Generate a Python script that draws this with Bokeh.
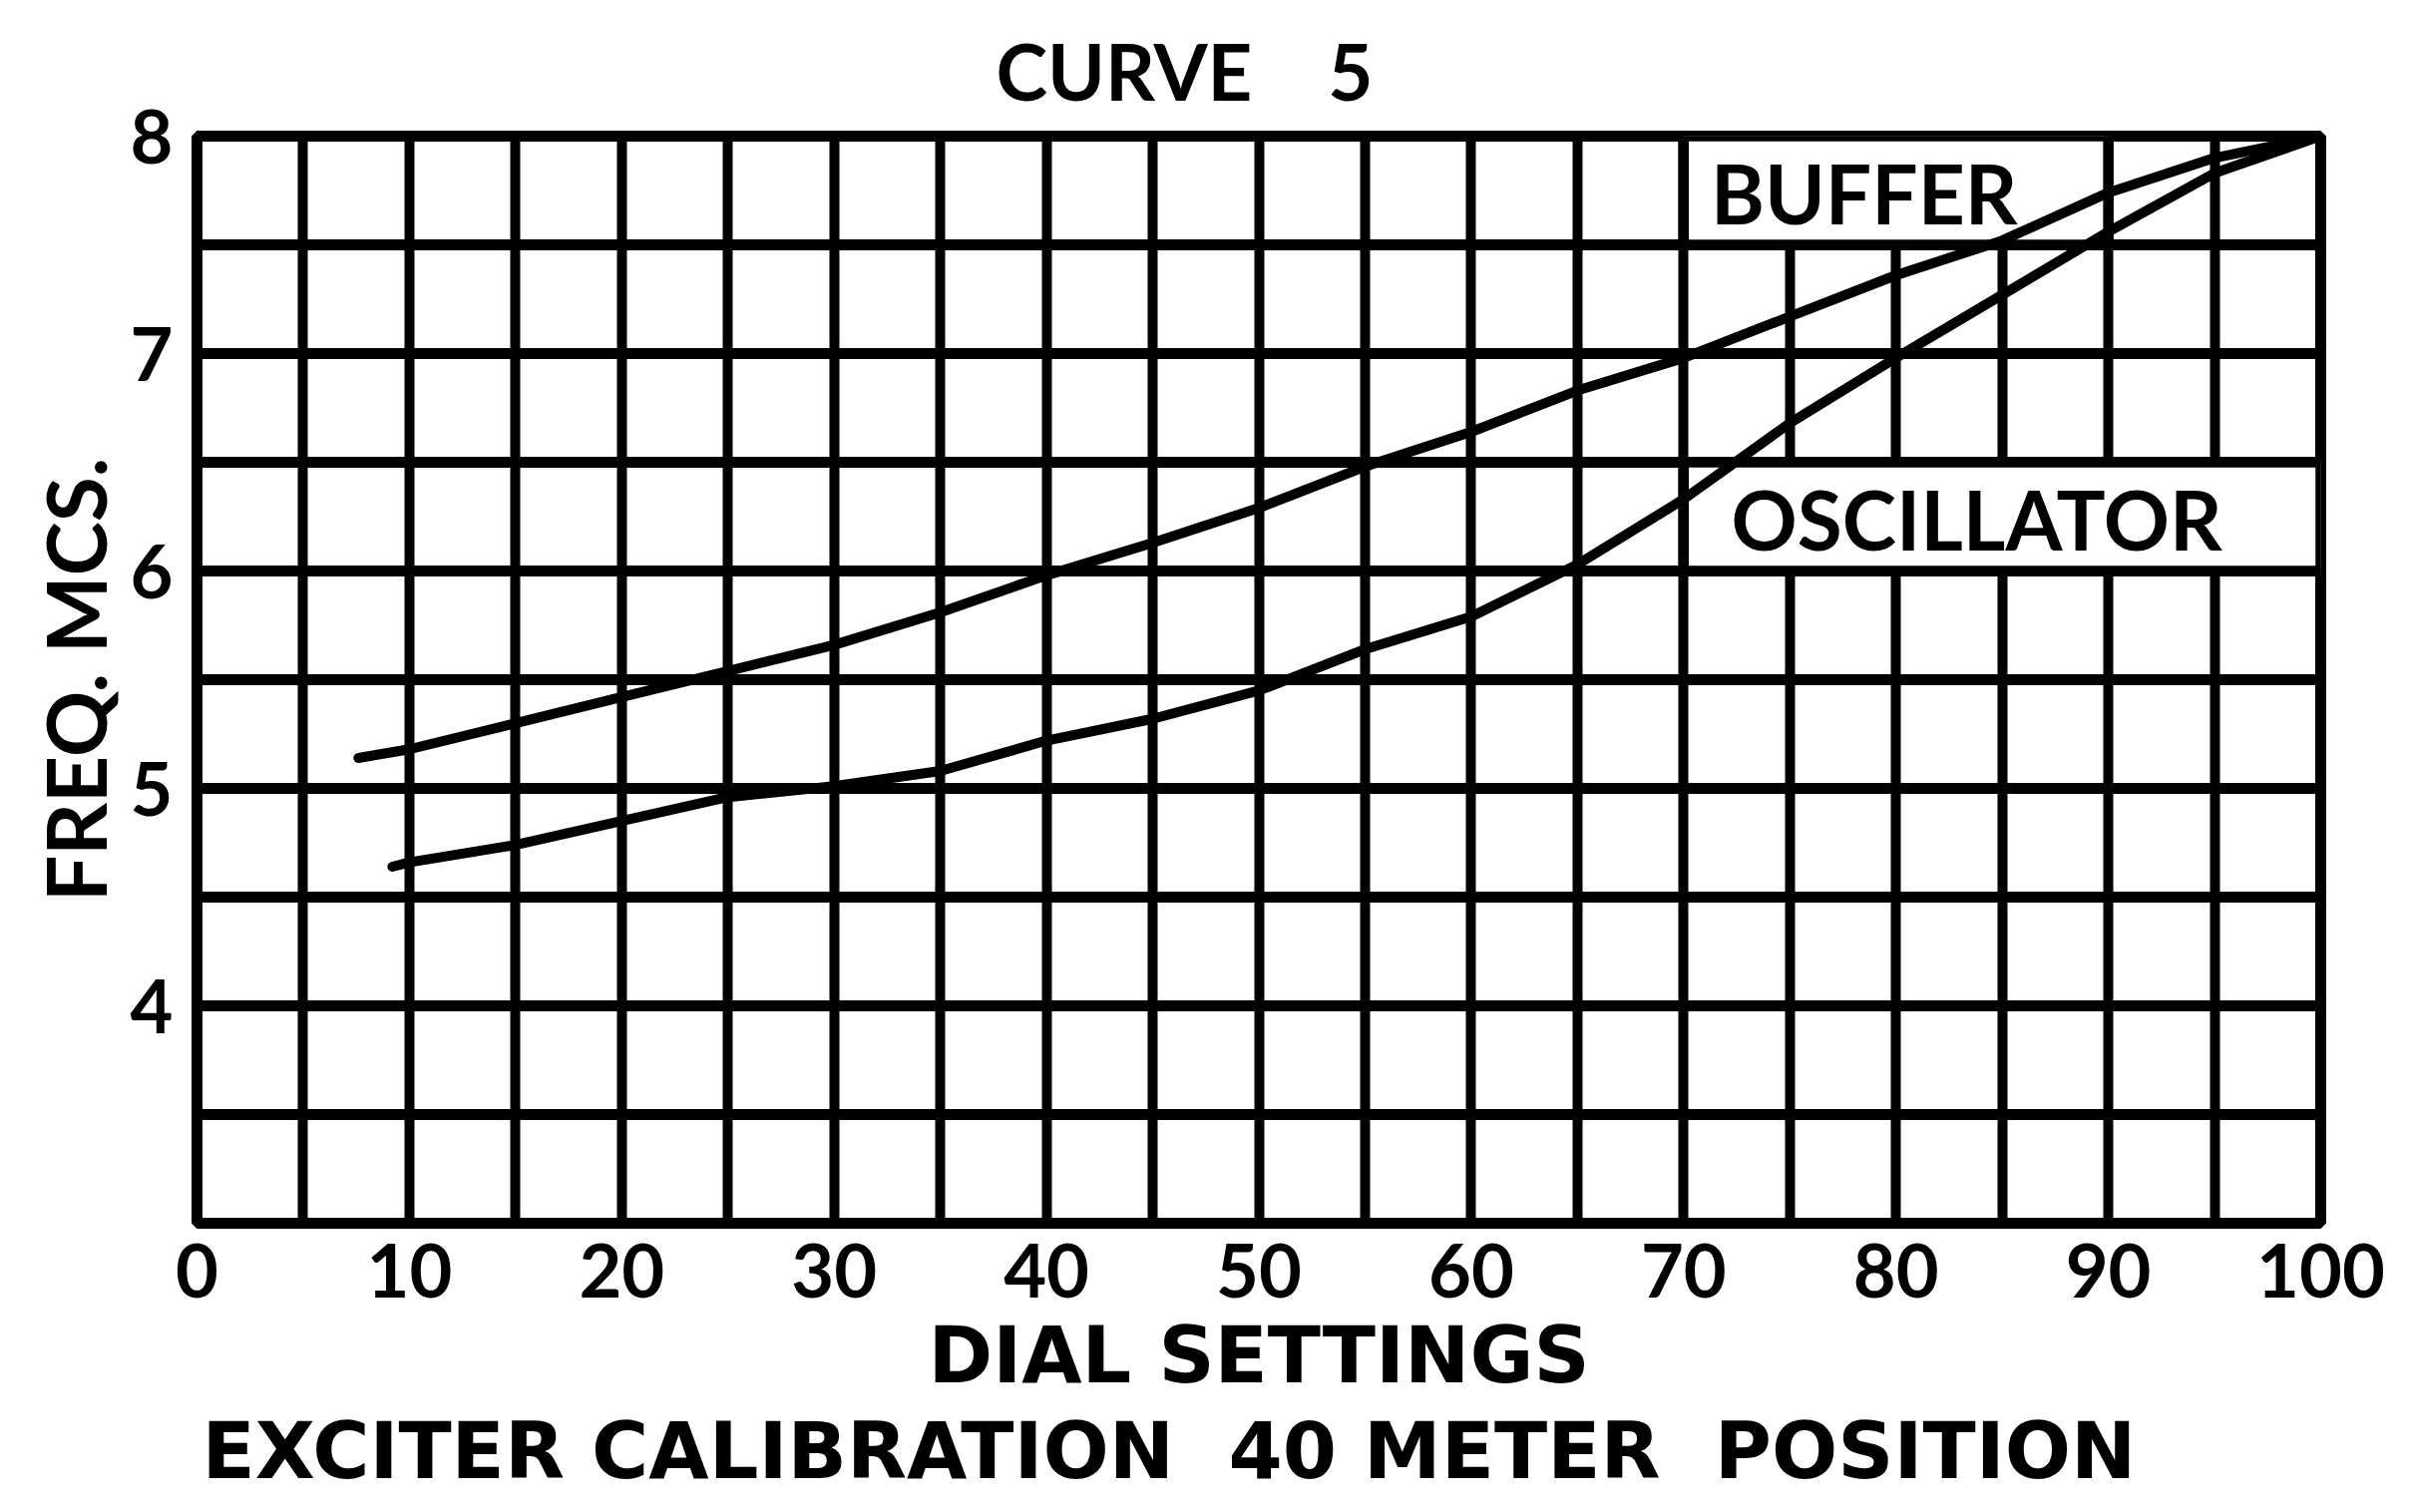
from bokeh.plotting import figure
from bokeh.models import FixedTicker, Range1d, Title, Label
from bokeh.embed import file_html
from bokeh.resources import INLINE

# ---- data ----
buffer_x = [7.6, 10, 15, 20, 25, 30, 35, 40, 45, 50, 55, 60, 65, 70, 75, 80, 85, 90, 95, 100]
buffer_y = [5.14, 5.18, 5.30, 5.42, 5.54, 5.66, 5.81, 5.98, 6.13, 6.29, 6.48, 6.64, 6.83,
            6.98, 7.17, 7.36, 7.52, 7.74, 7.90, 8.0]

osc_x = [9.2, 10, 15, 20, 25, 30, 35, 40, 45, 50, 55, 60, 65, 70, 75, 80, 85, 90, 95, 100]
osc_y = [4.64, 4.66, 4.74, 4.85, 4.96, 5.01, 5.08, 5.22, 5.32, 5.45, 5.64, 5.79, 6.03,
         6.33, 6.68, 6.98, 7.27, 7.56, 7.83, 8.0]

x_tick_values = [0, 10, 20, 30, 40, 50, 60, 70, 80, 90, 100]
y_tick_values = [4, 5, 6, 7, 8]
x_grid_values = list(range(0, 101, 5))
y_grid_values = [3.0, 3.5, 4.0, 4.5, 5.0, 5.5, 6.0, 6.5, 7.0, 7.5, 8.0]

NBSP = "\u00a0"
title_text = "CURVE" + NBSP * 4 + "5"
x_label = "DIAL SETTINGS"
y_label = "FREQ. MCS."
caption = "EXCITER CALIBRATION " + NBSP + "40 METER " + NBSP + "POSITION"
series_names = ["BUFFER", "OSCILLATOR"]

FONT = "Lato"
WIDE_FONT = "DejaVu Sans"
INK = "black"

p = figure(width=2399, height=1500, output_backend="svg", toolbar_location=None,
           x_range=Range1d(0, 100), y_range=Range1d(3, 8),
           min_border_left=197, min_border_right=73, min_border_top=136,
           min_border_bottom=273)

p.background_fill_color = "white"
p.border_fill_color = "white"
p.outline_line_color = INK
p.outline_line_width = 11

# grid
p.xgrid.ticker = FixedTicker(ticks=x_grid_values)
p.ygrid.ticker = FixedTicker(ticks=y_grid_values)
p.xgrid.grid_line_color = INK
p.ygrid.grid_line_color = INK
p.xgrid.grid_line_width = 10
p.ygrid.grid_line_width = 11
p.grid.grid_line_alpha = 1.0

# axes
p.xaxis.ticker = FixedTicker(ticks=x_tick_values)
p.yaxis.ticker = FixedTicker(ticks=y_tick_values)
for ax in (p.xaxis, p.yaxis):
    ax.axis_line_color = None
    ax.major_tick_line_color = None
    ax.minor_tick_line_color = None
    ax.major_label_text_font = FONT
    ax.major_label_text_font_style = "bold"
    ax.major_label_text_font_size = "74px"
    ax.major_label_text_color = INK
    ax.axis_label_text_font_style = "bold"
    ax.axis_label_text_color = INK

p.yaxis.axis_label_text_font = FONT
p.yaxis.axis_label_text_font_size = "82px"
p.xaxis.axis_label_text_font = WIDE_FONT
p.xaxis.axis_label_text_font_size = "78px"

p.xaxis.axis_label = x_label
p.yaxis.axis_label = y_label
p.xaxis.major_label_standoff = 14
p.yaxis.major_label_standoff = 18
p.xaxis.axis_label_standoff = 10
p.yaxis.axis_label_standoff = 4

# title
p.title.text = title_text
p.title.align = "left"
p.title.offset = 801
p.title.standoff = 38
p.title.text_font = FONT
p.title.text_font_style = "bold"
p.title.text_font_size = "78px"
p.title.text_color = INK

p.add_layout(Title(text=caption, align="left", offset=5, standoff=2, text_font=WIDE_FONT,
                   text_font_style="bold", text_font_size="78px",
                   text_color=INK), "below")

# label boxes (white cells that blank out the grid)
p.quad(left=[70], right=[90], bottom=[7.5], top=[8.0], fill_color="white",
       line_color=INK, line_width=10.5)
p.quad(left=[70], right=[100], bottom=[6.0], top=[6.5], fill_color="white",
       line_color=INK, line_width=10.5)

# curves
p.line(buffer_x, buffer_y, line_color=INK, line_width=10, line_cap="round", line_join="round")
p.line(osc_x, osc_y, line_color=INK, line_width=10, line_cap="round", line_join="round")

p.add_layout(Label(x=78.5, y=7.74, text=series_names[0], text_font=FONT,
                   text_font_style="bold", text_font_size="82px", text_color=INK,
                   text_align="center", text_baseline="middle"))
p.add_layout(Label(x=83.8, y=6.24, text=series_names[1], text_font=FONT,
                   text_font_style="bold", text_font_size="82px", text_color=INK,
                   text_align="center", text_baseline="middle"))

open("out.html", "w").write(file_html(p, INLINE))
